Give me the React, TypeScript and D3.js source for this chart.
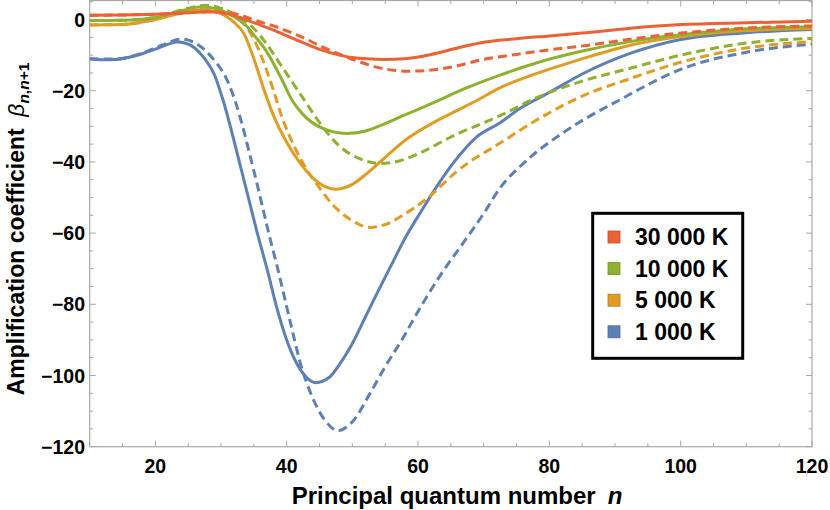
import * as d3 from "d3";
import { useEffect, useRef } from "react";

type Pt = [number, number];

// principal quantum number n, amplification coefficient beta
const t30000Solid: Pt[] = [
  [10, 1.2], [15, 1.3], [20, 1.5], [25, 1.9], [28, 2.2], [31, 1.6], [33, 0.5], [35.3, -1.1],
  [38, -3], [40.3, -4.8], [43, -6.9], [45.4, -8.6], [48, -10], [51, -10.9], [54.7, -11.2],
  [58, -11], [62, -9.8], [66, -8], [69.4, -6.6], [75, -5.4], [80, -4.6], [85, -3.8],
  [92, -2.5], [100, -1.4], [110, -0.9], [120, -0.5],
];
const t30000Dashed: Pt[] = [
  [10, 1.2], [20, 1.5], [25, 1.9], [28, 2.2], [31, 2.0], [33, 1.2], [35.3, -0.3], [38, -1.8],
  [40.3, -3.4], [43, -5.5], [45.4, -7.7], [48, -9.7], [51, -11.8], [54, -13.5], [58.5, -14.5],
  [62, -14.2], [66, -13], [69.4, -11.4], [75, -9.8], [80, -8.5], [86, -7.2], [92, -5.6],
  [100, -3.8], [110, -2.4], [120, -1.8],
];
const t10000Solid: Pt[] = [
  [10, -0.3], [15, -0.2], [20, 0.6], [24, 2.5], [26.7, 3.5], [28.5, 3.3], [30.2, 2.4], [32, 0.8],
  [33.7, -1.5], [35.3, -5], [36.8, -8.6], [39.3, -17], [40.8, -22.6], [42.4, -26.5], [45.5, -30.6],
  [49.1, -32], [52, -31.3], [55.3, -29], [58, -26.8], [60.3, -25], [63.3, -22.6], [67, -19.5],
  [72.5, -15.6], [78, -12.2], [84.7, -9.0], [92.3, -6.2], [100, -4.3], [110, -2.6], [120, -2.0],
];
const t10000Dashed: Pt[] = [
  [10, -0.3], [15, -0.2], [20, 0.6], [24, 2.7], [27.7, 4.0], [29.5, 3.5], [31, 2.5], [33, 0.5],
  [35, -2.5], [37, -7], [39, -12.5], [41, -18], [43, -23.5], [45.5, -30.2], [48, -35.5], [51, -39],
  [54.2, -40.4], [57, -39.8], [60.3, -37.5], [65, -33], [72.5, -27], [78, -22], [85, -17.3],
  [92.3, -13.7], [100, -10], [110, -6.6], [120, -5.3],
];
const t5000Solid: Pt[] = [
  [10, -1.5], [15, -1.4], [20, 0], [24, 1.8], [27, 2.7], [29, 2.3], [30.5, 1.2], [32, -0.8],
  [33.5, -4], [35, -11], [36.5, -19.5], [38, -27], [40, -34.5], [42.1, -40.5], [44.8, -45.8],
  [47.4, -47.7], [50, -46.3], [52.5, -42.8], [55.3, -38.2], [58.5, -33.3], [62.3, -29], [66, -25.5],
  [69.1, -22.6], [72, -19.6], [78, -15.2], [84.7, -11.2], [92.3, -7.2], [100, -4.8], [110, -3.1],
  [120, -2.5],
];
const t5000Dashed: Pt[] = [
  [10, -1.5], [15, -1.4], [20, 0], [24, 2.0], [28, 3.2], [30, 2.8], [32, 1.2], [33.5, -1.2],
  [35, -5.5], [36.5, -12], [38, -20], [39.3, -27.5], [41, -35], [43, -42], [44.8, -46.8], [47, -52],
  [50, -56.5], [52.7, -58.4], [55, -57.6], [58, -54.6], [61.5, -50.1], [66, -42.5], [72.5, -34.7],
  [78, -28.3], [85, -21.5], [92.3, -16.6], [100, -12], [110, -8], [120, -6.2],
];
const t1000Solid: Pt[] = [
  [10, -11], [12, -11.3], [14, -11.2], [16, -10.6], [18, -9.6], [20, -8.3], [22, -6.9], [23.3, -6.3],
  [24.5, -6.6], [26, -8], [27.5, -11], [29, -15.5], [30.3, -22.6], [33, -41.5], [35.8, -61.9],
  [37, -70], [38.5, -81], [40, -90], [41.5, -96.5], [43, -100.5], [44.4, -102], [46.5, -100.5],
  [48, -97], [50, -91], [52, -83.5], [54, -76], [56.2, -68], [58, -61.5], [60.3, -54.4], [63, -46.5],
  [65.5, -40], [68.9, -33], [72.5, -29], [75.5, -25], [80, -20.5], [85, -15.3], [92.3, -9.5],
  [100, -5.6], [110, -3.7], [120, -2.8],
];
const t1000Dashed: Pt[] = [
  [10, -11], [14, -11.1], [18, -9.4], [21, -7.2], [24, -5.5], [26, -6.5], [27.5, -8.5], [29, -11.5],
  [30.8, -16.5], [32.1, -22.6], [35, -42.5], [37.6, -62.5], [38.5, -69], [41, -88.5], [42, -96],
  [44, -106.5], [46, -113], [47.8, -115.5], [50, -113], [53, -104], [55, -97.5], [57.7, -89.5],
  [60, -82], [63.6, -71.3], [66.4, -64], [70, -54.5], [72.5, -47.3], [76, -40.5], [81.6, -32.4],
  [86, -27.3], [90.7, -22.6], [95, -18.3], [100, -14], [110, -9.2], [120, -6.9],
];

const legendLabels = ["30 000 K", "10 000 K", "5 000 K", "1 000 K"];
const colors = ["#EB6235", "#8FB131", "#E19C24", "#5E81B5"];
const xTicks = [20, 40, 60, 80, 100, 120];
const yTicks = [-120, -100, -80, -60, -40, -20, 0];

const series = [
  { solid: t1000Solid, dashed: t1000Dashed, color: colors[3] },
  { solid: t5000Solid, dashed: t5000Dashed, color: colors[2] },
  { solid: t10000Solid, dashed: t10000Dashed, color: colors[1] },
  { solid: t30000Solid, dashed: t30000Dashed, color: colors[0] },
];

const W = 830;
const H = 510;
const FONT = "'Liberation Sans', Arial, sans-serif";

export default function App() {
  const ref = useRef<SVGSVGElement>(null);

  useEffect(() => {
    if (!ref.current) return;
    const svg = d3.select(ref.current);
    svg.selectAll("*").remove();

    const left = 89.7, right = 812, top = 0.5, bottom = 446.7;
    const x = d3.scaleLinear().domain([10, 120]).range([left, right]);
    const y = d3.scaleLinear().domain([-120, 5.35]).range([bottom, top]);

    svg.append("defs").append("clipPath").attr("id", "plot")
      .append("rect").attr("x", left).attr("y", top)
      .attr("width", right - left).attr("height", bottom - top);

    const frameColor = "#a8a8a8";
    svg.append("rect")
      .attr("x", left).attr("y", top)
      .attr("width", right - left).attr("height", bottom - top)
      .attr("fill", "none").attr("stroke", frameColor).attr("stroke-width", 1.2);

    // ticks on all four sides, pointing inwards
    const ticks = svg.append("g").attr("stroke", frameColor).attr("stroke-width", 1);
    d3.range(10, 121, 5).forEach((v) => {
      const len = v % 20 === 0 ? 6 : 3.5;
      ticks.append("line").attr("x1", x(v)).attr("x2", x(v)).attr("y1", bottom).attr("y2", bottom - len);
      ticks.append("line").attr("x1", x(v)).attr("x2", x(v)).attr("y1", top).attr("y2", top + len);
    });
    d3.range(-120, 6, 5).forEach((v) => {
      const len = v % 20 === 0 ? 6 : 3.5;
      ticks.append("line").attr("x1", left).attr("x2", left + len).attr("y1", y(v)).attr("y2", y(v));
      ticks.append("line").attr("x1", right).attr("x2", right - len).attr("y1", y(v)).attr("y2", y(v));
    });

    svg.append("g").selectAll("text").data(xTicks).enter().append("text")
      .attr("x", (d) => x(d)).attr("y", 472.5)
      .attr("text-anchor", "middle")
      .attr("font-family", FONT).attr("font-weight", "bold").attr("font-size", 19.5)
      .text((d) => String(d));

    svg.append("g").selectAll("text").data(yTicks).enter().append("text")
      .attr("x", 85).attr("y", (d) => y(d) + 7)
      .attr("text-anchor", "end")
      .attr("font-family", FONT).attr("font-weight", "bold").attr("font-size", 19.5)
      .text((d) => (d < 0 ? "\u2212" + Math.abs(d) : String(d)));

    const line = d3.line<Pt>()
      .x((d) => x(d[0]))
      .y((d) => y(d[1]))
      .curve(d3.curveMonotoneX);

    const curves = svg.append("g").attr("clip-path", "url(#plot)");
    series.forEach((s) => {
      curves.append("path").attr("d", line(s.dashed))
        .attr("fill", "none").attr("stroke", s.color).attr("stroke-width", 3)
        .attr("stroke-dasharray", "9,5");
      curves.append("path").attr("d", line(s.solid))
        .attr("fill", "none").attr("stroke", s.color).attr("stroke-width", 3);
    });

    // axis titles
    const xt = svg.append("text")
      .attr("x", 457).attr("y", 504)
      .attr("text-anchor", "middle")
      .attr("font-family", FONT).attr("font-weight", "bold").attr("font-size", 24);
    xt.append("tspan").text("Principal quantum number\u2002");
    xt.append("tspan").attr("font-style", "italic").text("n");

    const yt = svg.append("text")
      .attr("transform", "translate(24,229) rotate(-90)")
      .attr("text-anchor", "middle")
      .attr("font-family", FONT).attr("font-weight", "bold").attr("font-size", 23);
    yt.append("tspan").text("Amplification coefficient\u2002");
    yt.append("tspan").attr("font-style", "italic").attr("font-weight", "normal").text("\u03B2");
    const sub = yt.append("tspan").attr("font-size", 15.5).attr("dy", 5);
    sub.append("tspan").attr("font-style", "italic").text("n");
    sub.append("tspan").text(",");
    sub.append("tspan").attr("font-style", "italic").text("n");
    sub.append("tspan").text("+1");

    // legend
    const lg = svg.append("g");
    lg.append("rect")
      .attr("x", 592.7).attr("y", 213.3).attr("width", 150).attr("height", 145)
      .attr("fill", "white").attr("stroke", "black").attr("stroke-width", 3);
    legendLabels.forEach((label, i) => {
      const cy = 237 + i * 31.6;
      lg.append("rect")
        .attr("x", 608).attr("y", cy - 6).attr("width", 12).attr("height", 12)
        .attr("fill", colors[i])
        .attr("stroke", d3.color(colors[i])!.darker(0.6).formatHex()).attr("stroke-width", 0.8);
      lg.append("text")
        .attr("x", 635).attr("y", cy + 8)
        .attr("font-family", FONT).attr("font-weight", "bold").attr("font-size", 23)
        .text(label);
    });
  }, []);

  return (
    <svg
      ref={ref}
      width={W}
      height={H}
      style={{ position: "absolute", left: 0, top: 0, background: "white" }}
    />
  );
}
